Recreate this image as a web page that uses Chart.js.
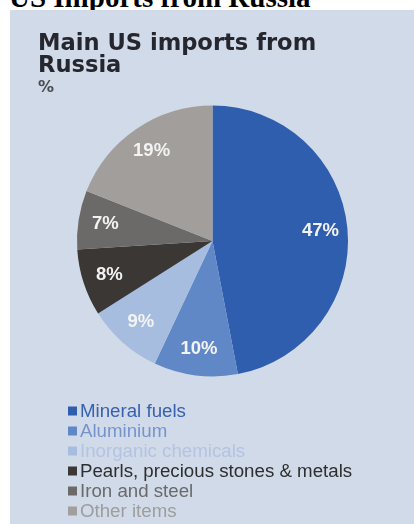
<!DOCTYPE html>
<html>
<head>
<meta charset="utf-8">
<script src="https://cdn.jsdelivr.net/npm/chart.js@4.4.0/dist/chart.umd.min.js"></script>
<style>
  body { margin: 0; background: #fff; width: 414px; height: 524px; overflow: hidden; position: relative; }
  #heading { position: absolute; left: 9px; top: -17px; font: bold 29px/29px "Liberation Serif", "Times New Roman", serif; color: #000; white-space: nowrap; }
  #panel { position: absolute; left: 10px; top: 10px; width: 404px; height: 514px; background: #d1dae8; }
</style>
</head>
<body>
<div id="heading">US Imports from Russia</div>
<div id="panel"><canvas id="chartImports"></canvas></div>
<script>
// data (share of US imports from Russia, %)
var categories = ["Mineral fuels", "Aluminium", "Inorganic chemicals", "Pearls, precious stones & metals", "Iron and steel", "Other items"]
var shares = [47, 10, 9, 8, 7, 19]

var sliceColors = ["#2f5eae", "#6088c7", "#a6bde0", "#3b3735", "#6b6a68", "#a19e9b"]
var legendTextColors = ["#3761ae", "#7694cb", "#b2c4e2", "#2e2e2e", "#6a6a6a", "#9d9d9d"]

// percent labels inside the slices
var sliceLabels = {
    id: 'sliceLabels',
    afterDatasetsDraw: function(chart){
        var ctx = chart.ctx
        var meta = chart.getDatasetMeta(0)
        ctx.save()
        ctx.font = 'bold 18.5px "Liberation Sans", Arial, sans-serif'
        ctx.fillStyle = '#f3f3f3'
        ctx.textAlign = 'center'
        ctx.textBaseline = 'middle'
        meta.data.forEach(function(arc, i){
            var mid = (arc.startAngle + arc.endAngle) / 2
            var r = arc.outerRadius * 0.8
            ctx.fillText(chart.data.datasets[0].data[i] + '%', arc.x + Math.cos(mid) * r, arc.y + Math.sin(mid) * r)
        })
        ctx.restore()
    }
}

// one-item-per-row legend under the pie
var stackedLegend = {
    id: 'stackedLegend',
    afterDraw: function(chart){
        var ctx = chart.ctx
        var area = chart.chartArea
        ctx.save()
        ctx.font = '18.7px "Liberation Sans", Arial, sans-serif'
        ctx.textBaseline = 'middle'
        chart.data.labels.forEach(function(label, i){
            var y = area.bottom + 34.5 + i * 20
            ctx.fillStyle = sliceColors[i]
            ctx.fillRect(58, y - 4.5, 9, 9)
            ctx.fillStyle = legendTextColors[i]
            ctx.fillText(label, 70, y + 1)
        })
        ctx.restore()
    }
}

Chart.defaults.font.family = '"DejaVu Sans", sans-serif'

let chartImports = new Chart(document.getElementById('chartImports').getContext('2d'), {
    type: 'pie',
    data: {
        labels: categories,
        datasets: [{
            data: shares,
            backgroundColor: sliceColors,
            borderWidth: 0
        }]
    },
    options: {
        responsive: true,
        maintainAspectRatio: false,
        animation: false,
        layout: {
            padding: { left: 28, right: 27, top: 0, bottom: 147.5 }
        },
        plugins: {
            title: {
                display: true,
                text: ['Main US imports from', 'Russia'],
                align: 'start',
                color: '#26262e',
                font: { size: 22.6, weight: 'bold', lineHeight: '22px' },
                padding: { top: 23, bottom: 2.5 }
            },
            subtitle: {
                display: true,
                text: '%',
                align: 'start',
                color: '#4a4a52',
                font: { size: 16, weight: 'bold', lineHeight: '17px' },
                padding: { top: 0, bottom: 9 }
            },
            legend: { display: false },
            tooltip: { enabled: false }
        }
    },
    plugins: [sliceLabels, stackedLegend]
})
</script>
</body>
</html>
